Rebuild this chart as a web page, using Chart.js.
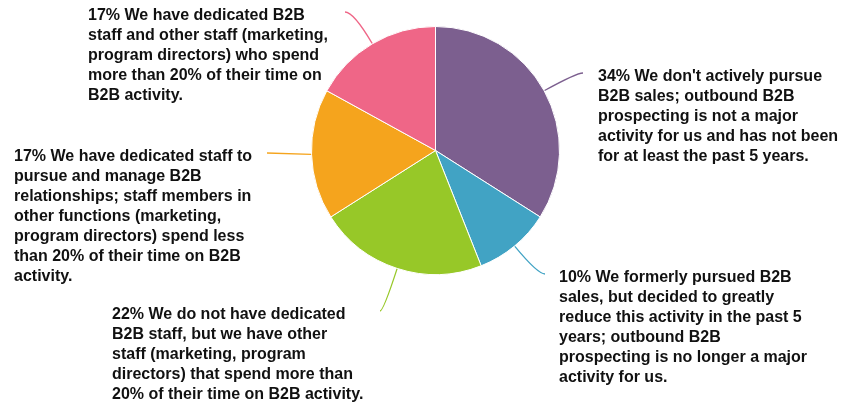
<!DOCTYPE html>
<html><head><meta charset="utf-8">
<script src="https://cdn.jsdelivr.net/npm/chart.js@4/dist/chart.umd.min.js"></script>
<style>html,body{margin:0;padding:0;background:#fff}#wrap{width:841px;height:409px;position:relative}</style>
</head><body><div id="wrap"><canvas id="c" width="841" height="409"></canvas></div>
<script>
// ---- data ----
const categories = [
  "We don't actively pursue B2B sales",
  "We formerly pursued B2B sales",
  "No dedicated B2B staff, other staff >20%",
  "Dedicated staff, other staff <20%",
  "Dedicated B2B staff and other staff >20%"
];
const values = [34, 10, 22, 17, 17];
const labelTexts = [
  ["We don't actively pursue", "B2B sales; outbound B2B", "prospecting is not a major", "activity for us and has not been", "for at least the past 5 years."],
  ["We formerly pursued B2B", "sales, but decided to greatly", "reduce this activity in the past 5", "years; outbound B2B", "prospecting is no longer a major", "activity for us."],
  ["We do not have dedicated", "B2B staff, but we have other", "staff (marketing, program", "directors) that spend more than", "20% of their time on B2B activity."],
  ["We have dedicated staff to", "pursue and manage B2B", "relationships; staff members in", "other functions (marketing,", "program directors) spend less", "than 20% of their time on B2B", "activity."],
  ["We have dedicated B2B", "staff and other staff (marketing,", "program directors) who spend", "more than 20% of their time on", "B2B activity."]
];
const sliceColors = ['#7C5F8F', '#41A3C4', '#97C828', '#F5A41D', '#EF6687'];

// ---- callout plugin ----
const callouts = {
  id: 'callouts',
  afterDatasetsDraw(chart, args, opts) {
    const ctx = chart.ctx;
    const meta = chart.getDatasetMeta(0);
    meta.data.forEach((arc, i) => {
      const p = arc.getProps(['x', 'y', 'startAngle', 'endAngle', 'outerRadius'], true);
      const a = p.startAngle + (p.endAngle - p.startAngle) * opts.anchor[i];
      const dx = Math.cos(a), dy = Math.sin(a);
      const r = p.outerRadius + 0.5;
      const p0 = { x: p.x + dx * r, y: p.y + dy * r };
      const p2 = opts.ends[i];
      let c = null;
      if (Math.abs(dy) > 0.2) {
        const t = (p2.y - p0.y) / dy;
        if (t > 0) c = { x: p0.x + dx * t, y: p2.y };
      }
      if (!c) c = { x: (p0.x + p2.x) / 2, y: (p0.y + p2.y) / 2 };
      ctx.save();
      ctx.strokeStyle = sliceColors[i];
      ctx.lineWidth = 1.3;
      ctx.beginPath();
      ctx.moveTo(p0.x, p0.y);
      ctx.quadraticCurveTo(c.x, c.y, p2.x, p2.y);
      ctx.stroke();
      // label
      ctx.fillStyle = '#111';
      ctx.font = 'bold 16px "Liberation Sans", Arial, Helvetica, sans-serif';
      ctx.textBaseline = 'middle';
      ctx.textAlign = 'left';
      const pos = opts.labels[i];
      labelTexts[i].forEach((line, k) => {
        const txt = k === 0 ? values[i] + '% ' + line : line;
        ctx.fillText(txt, pos.x, pos.y + k * opts.lineHeight);
      });
      ctx.restore();
    });
  }
};

new Chart(document.getElementById('c'), {
  type: 'pie',
  data: {
    labels: categories,
    datasets: [{
      data: values,
      backgroundColor: sliceColors,
      borderColor: '#ffffff',
      borderWidth: 1,
      hoverOffset: 0
    }]
  },
  options: {
    responsive: false,
    devicePixelRatio: 1,
    animation: false,
    layout: { padding: { top: 26, bottom: 134, left: 311, right: 281 } },
    plugins: {
      legend: { display: false },
      tooltip: { enabled: false },
      callouts: {
        anchor: [0.5, 0.5, 0.5, 0.5, 0.5],
        ends: [{x: 583, y: 73}, {x: 545, y: 274}, {x: 380, y: 311}, {x: 267, y: 153}, {x: 345, y: 12}],
        labels: [{x: 598, y: 77}, {x: 559, y: 278}, {x: 112, y: 315}, {x: 14, y: 157}, {x: 88, y: 16}],
        lineHeight: 20
      }
    }
  },
  plugins: [callouts]
});
</script>
</body></html>
